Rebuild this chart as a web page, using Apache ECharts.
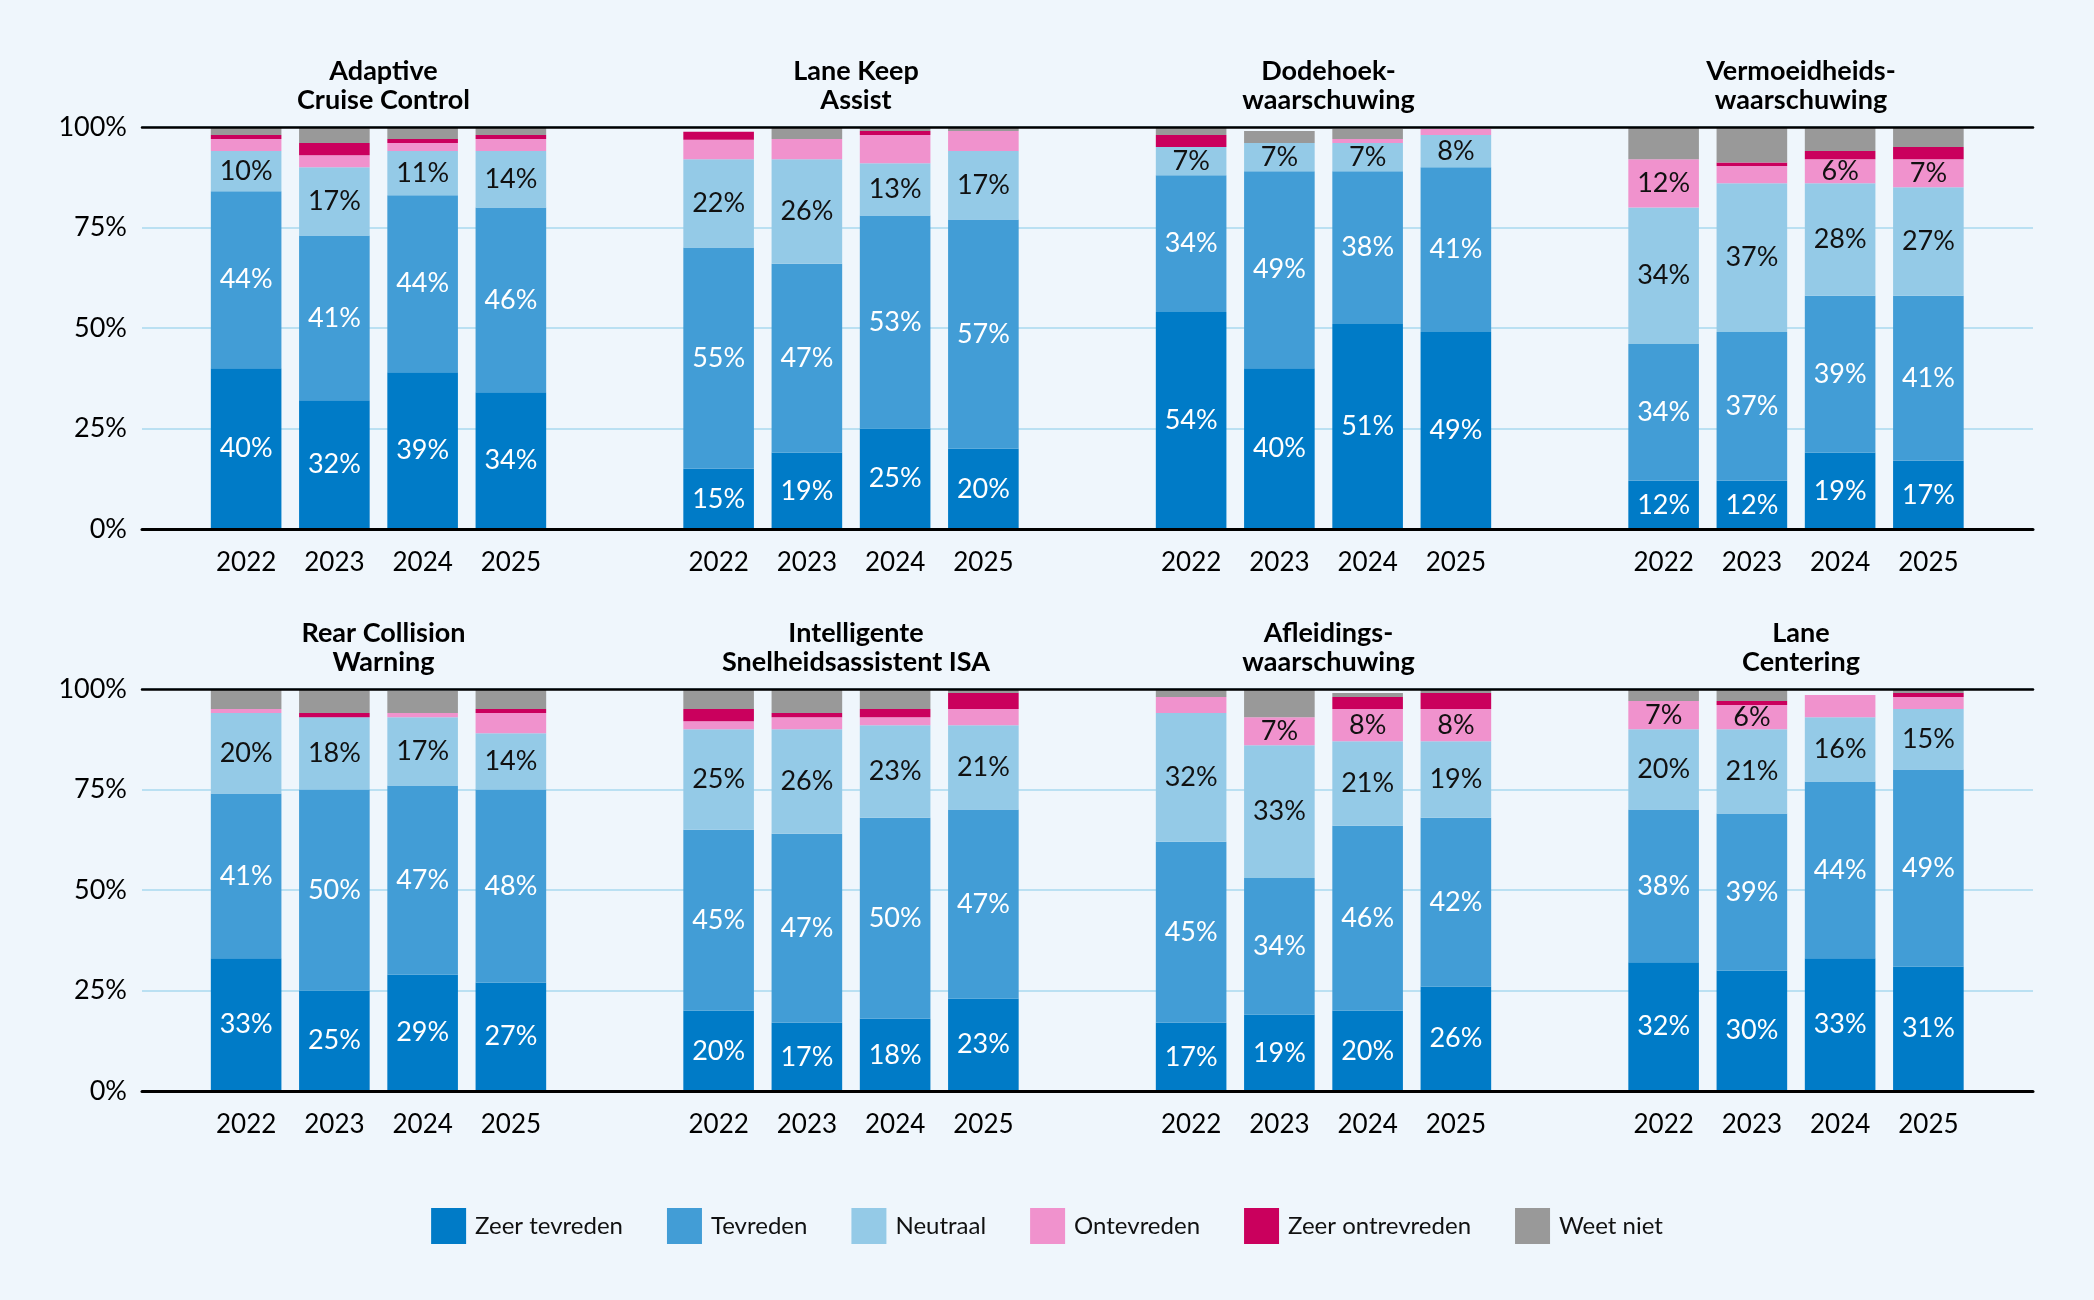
<!DOCTYPE html>
<html>
<head>
<meta charset="utf-8">
<script src="https://cdn.jsdelivr.net/npm/echarts@6/dist/echarts.min.js"></script>
<style>
  html, body { margin: 0; padding: 0; background: #EFF6FC; }
  #chart { width: 2094px; height: 1300px; }
</style>
</head>
<body>
<div id="chart"></div>
<script>
// ── data ──
const years = ['2022', '2023', '2024', '2025']
const titles = [
  'Adaptive\nCruise Control', 'Lane Keep\nAssist', 'Dodehoek-\nwaarschuwing', 'Vermoeidheids-\nwaarschuwing',
  'Rear Collision\nWarning', 'Intelligente\nSnelheidsassistent ISA', 'Afleidings-\nwaarschuwing', 'Lane\nCentering',
]
const seriesNames = ['Zeer tevreden', 'Tevreden', 'Neutraal', 'Ontevreden', 'Zeer ontrevreden', 'Weet niet']
const yTicks = [0, 25, 50, 75, 100]

// one row per panel (same order as titles), one value per year
const zeerTevreden = [
  [40, 32, 39, 34], [15, 19, 25, 20], [54, 40, 51, 49], [12, 12, 19, 17],
  [33, 25, 29, 27], [20, 17, 18, 23], [17, 19, 20, 26], [32, 30, 33, 31],
]
const tevreden = [
  [44, 41, 44, 46], [55, 47, 53, 57], [34, 49, 38, 41], [34, 37, 39, 41],
  [41, 50, 47, 48], [45, 47, 50, 47], [45, 34, 46, 42], [38, 39, 44, 49],
]
const neutraal = [
  [10, 17, 11, 14], [22, 26, 13, 17], [7, 7, 7, 8], [34, 37, 28, 27],
  [20, 18, 17, 14], [25, 26, 23, 21], [32, 33, 21, 19], [20, 21, 16, 15],
]
const ontevreden = [
  [3, 3, 2, 3], [4.8, 5, 7, 5], [0, 0, 1, 1.5], [12, 4.3, 6, 7],
  [1, 0, 1, 5], [2, 3, 2, 4], [4, 7, 8, 8], [7, 6, 5.5, 3],
]
const zeerOntevreden = [
  [1, 3, 1, 1], [2, 0, 1, 0], [3, 0, 0, 0], [0, 0.9, 2, 3],
  [0, 1, 0, 1], [3, 1, 2, 4], [0, 0, 3, 4], [0, 1, 0, 1],
]
const weetNiet = [
  [2, 4, 3, 2], [0, 3, 1, 1], [2, 3, 2.5, 0], [8, 8.8, 6, 5],
  [5, 6, 5.5, 5], [5, 6, 5, 1], [2, 7, 1, 1], [3, 3, 0, 1],
]
// Ontevreden segments that carry no label in the original, as [panel, year]
const ontevredenNoLabel = [[1, 2]]

const allValues = [zeerTevreden, tevreden, neutraal, ontevreden, zeerOntevreden, weetNiet]

const COLORS = ['#007BC7', '#429DD6', '#94CAE7', '#F092CD', '#CA005D', '#999999']
const LABEL_COLORS = ['#fff', '#fff', '#111', '#111']
const FONT = 'Lato, "Noto Sans", sans-serif'

// ── layout ──
const ROW_TOP = [127, 689]
const ROW_H = 402
const FRAME_LEFT = 142, FRAME_RIGHT = 2033
const PANEL_LEFT0 = 202, PANEL_STRIDE = 472.5, PANEL_W = 353

function showLabel(s, p, i, v) {
  if (s < 3) return true
  if (s === 3) return v >= 6 && !ontevredenNoLabel.some(e => e[0] === p && e[1] === i)
  return false
}

const grid = [], xAxis = [], yAxis = [], series = [], title = []

// backdrop frame for each row: gridlines, y labels, top + bottom black lines
for (let r = 0; r < 2; r++) {
  grid.push({ left: FRAME_LEFT, right: 2094 - FRAME_RIGHT, top: ROW_TOP[r], height: ROW_H })
}
for (let r = 0; r < 2; r++) {
  xAxis.push({
    gridIndex: r, type: 'category', data: [''], position: 'bottom', z: 5,
    axisLine: { lineStyle: { color: '#000', width: 3 } },
    axisTick: { show: false }, axisLabel: { show: false }, splitLine: { show: false },
  })
  xAxis.push({
    gridIndex: r, type: 'category', data: [''], position: 'top', z: 5,
    axisLine: { lineStyle: { color: '#000', width: 2.5 } },
    axisTick: { show: false }, axisLabel: { show: false }, splitLine: { show: false },
  })
  yAxis.push({
    gridIndex: r, type: 'value', min: 0, max: 100, interval: 25,
    axisLine: { show: false }, axisTick: { show: false },
    axisLabel: { color: '#000', fontSize: 27, fontFamily: FONT, margin: 15, formatter: v => yTicks.includes(v) ? v + '%' : '' },
    splitLine: { lineStyle: { color: '#A9D8EF', width: 1.5 } },
  })
}

// one grid per panel
for (let p = 0; p < 8; p++) {
  const r = Math.floor(p / 4), c = p % 4
  const left = PANEL_LEFT0 + PANEL_STRIDE * c
  grid.push({ left, width: PANEL_W, top: ROW_TOP[r], height: ROW_H })
  xAxis.push({
    gridIndex: 2 + p, type: 'category', data: years,
    axisLine: { show: false }, axisTick: { show: false },
    axisLabel: { color: '#000', fontSize: 26, fontFamily: FONT, margin: 21 },
  })
  yAxis.push({ gridIndex: 2 + p, type: 'value', min: 0, max: 100, show: false })
  title.push({
    text: titles[p], left: left + PANEL_W / 2, top: ROW_TOP[r] - 75, textAlign: 'center',
    textStyle: { fontSize: 27, fontWeight: 'bold', color: '#000', fontFamily: FONT, lineHeight: 29 },
  })
  allValues.forEach((vals, s) => {
    series.push({
      name: seriesNames[s], type: 'bar', stack: 'p' + p,
      xAxisIndex: 4 + p, yAxisIndex: 2 + p,
      barWidth: '80%',
      itemStyle: { color: COLORS[s] },
      label: {
        position: 'inside', fontSize: 27, fontFamily: FONT,
        color: LABEL_COLORS[s] || '#111', formatter: d => d.value + '%',
      },
      data: vals[p].map((v, i) => ({ value: v, label: { show: showLabel(s, p, i, v) } })),
    })
  })
}

const chart = echarts.init(document.getElementById('chart'))
chart.setOption({
  backgroundColor: '#EFF6FC',
  animation: false,
  title, grid, xAxis, yAxis, series,
  legend: {
    data: seriesNames, top: 1203, left: 'center',
    icon: 'rect', itemWidth: 35, itemHeight: 36, itemGap: 44,
    textStyle: { fontSize: 24, color: '#111', fontFamily: FONT, padding: [0, 0, 0, 4] },
  },
})
</script>
</body>
</html>
